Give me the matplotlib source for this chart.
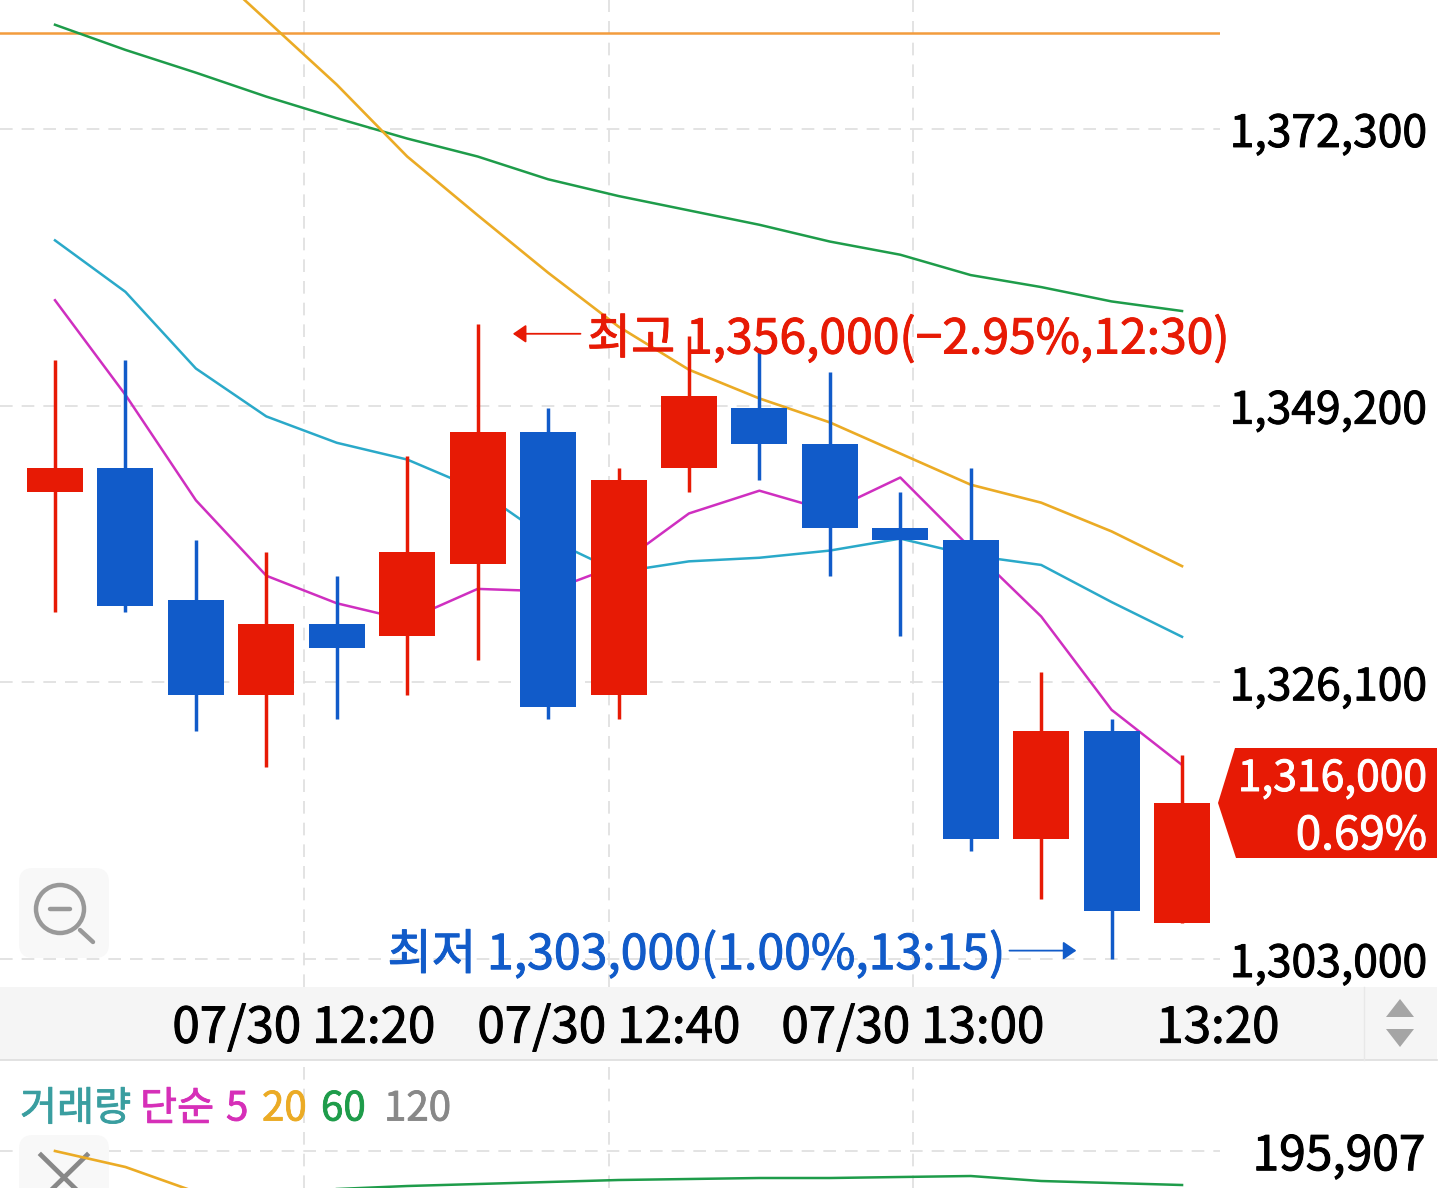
import matplotlib.pyplot as plt
import matplotlib.patheffects as pe
from matplotlib.patches import Circle, FancyBboxPatch, Polygon, Rectangle
import numpy as np

plt.rcParams['font.family'] = ['Noto Sans CJK KR', 'DejaVu Sans']

# prices in thousands of won, one candle every 5 minutes
opens = [1342, 1344, 1333, 1325, 1331, 1330, 1336, 1347, 1325, 1344, 1349, 1346, 1339, 1338, 1313, 1322, 1306]
closes = [1344, 1332.5, 1325, 1331, 1329, 1337, 1347, 1324, 1343, 1350, 1346, 1339, 1338, 1313, 1322, 1307, 1316]
highs = [1353, 1353, 1338, 1337, 1335, 1345, 1356, 1349, 1344, 1355, 1354, 1352, 1342, 1344, 1327, 1323, 1320]
lows = [1332, 1332, 1322, 1319, 1323, 1325, 1328, 1323, 1323, 1342, 1343, 1335, 1330, 1312, 1308, 1303, 1306]

ma_magenta = [1358.0, 1350.1, 1341.3, 1335.0, 1332.7, 1331.3, 1333.9, 1333.7, 1335.9,
              1340.2, 1342.1, 1340.4, 1343.2, 1337.3, 1331.6, 1323.8, 1319.2]
ma_cyan = [1363.0, 1358.7, 1352.3, 1348.3, 1346.1, 1344.7, 1342.2, 1338.1, 1335.3,
           1336.2, 1336.5, 1337.1, 1338.1, 1336.7, 1335.9, 1332.8, 1329.9]
ma_amber = [np.nan, np.nan, 1386.8, 1381.4, 1376.0, 1370.0, 1365.1, 1360.3, 1355.8,
            1352.2, 1349.8, 1347.8, 1345.2, 1342.6, 1341.1, 1338.7, 1335.8]
ma_green = [1381.0, 1378.9, 1377.0, 1375.0, 1373.2, 1371.5, 1370.0, 1368.1, 1366.7,
            1365.5, 1364.3, 1362.9, 1361.8, 1360.1, 1359.1, 1357.9, 1357.1]
level_orange = 1380.3

price_ticks = [1372.3, 1349.2, 1326.1, 1303.0]
price_labels = ['1,372,300', '1,349,200', '1,326,100', '1,303,000']
time_labels = ['07/30 12:20', '07/30 12:40', '07/30 13:00', '13:20']

# volume averages in thousands of shares
vol_amber = [195.9, 179.9, 154.9]
vol_green = [157.9, 160.9, 162.9, 164.9, 166.9, 167.9, 168.9, 168.9, 169.9, 170.9, 165.9, 163.9, 161.9]
vol_tick = 195.907
vol_label = '195,907'

RED = '#e71a05'
BLUE = '#115bc9'
W, H = 1440, 1188

fig = plt.figure(figsize=(W / 100, H / 100), dpi=100, facecolor='white')


def px_axes(x0, y0, x1, y1, z):
    a = fig.add_axes([x0 / W, 1 - y1 / H, (x1 - x0) / W, (y1 - y0) / H], zorder=z)
    a.patch.set_alpha(0)
    for s in a.spines.values():
        s.set_visible(False)
    return a


def thicken(t, c, w=0.7):
    # the font only comes in regular and bold, the reference sits in between
    t.set_path_effects([pe.withStroke(linewidth=w, foreground=c)])


# background strip behind the time labels
bg = px_axes(0, 0, W, H, 0)
bg.set_xlim(0, W)
bg.set_ylim(H, 0)
bg.axis('off')
bg.add_patch(Rectangle((0, 987), 1437, 73, fc='#f5f5f5', ec='none'))
bg.plot([0, 1437], [1060, 1060], color='#dddddd', lw=1.2)
bg.plot([1364, 1364], [987, 1060], color='#e8e8e8', lw=1)

# x runs in candle numbers, 70.44 px per candle, first candle at 55 px
step = 70.44
xlim = (-55 / step, (1220 - 55) / step)
xs = np.arange(len(opens))
tick_pos = [(p - 55) / step for p in (304, 609, 913, 1218)]

ax = px_axes(0, 0, 1220, 987, 1)
ax.set_xlim(xlim)
ax.set_ylim(1303 - 28 * 0.08349, 1303 + 959 * 0.08349)
ax.set_xticks(tick_pos, time_labels)
ax.set_yticks(price_ticks, price_labels)
ax.yaxis.tick_right()
ax.tick_params(axis='both', length=0, labelcolor='black')
ax.tick_params(axis='y', pad=149, labelsize=32)
ax.tick_params(axis='x', pad=30, labelsize=35.5)
for lab in ax.get_yticklabels():
    lab.set_ha('right')
    thicken(lab, 'black')
for lab in ax.get_xticklabels():
    lab.set_va('center')
    thicken(lab, 'black')
ax.grid(True, color='#e0e0e0', lw=1.3, ls=(0, (7, 5)), zorder=0)
ax.get_xgridlines()[-1].set_visible(False)
ax.set_axisbelow(True)

ax.axhline(level_orange, color='#f39c3d', lw=1.8, zorder=1)
ax.plot(xs, ma_green, color='#1e9c4a', lw=1.8, zorder=1)
ax.plot(xs, ma_amber, color='#ebab25', lw=1.9, zorder=1)
ax.plot(xs, ma_cyan, color='#2aa9c9', lw=1.8, zorder=1)
ax.plot(xs, ma_magenta, color='#cf2fc0', lw=1.8, zorder=1)

colors = [RED if c >= o else BLUE for o, c in zip(opens, closes)]
ax.vlines(xs, lows, highs, colors=colors, lw=2.5, zorder=2)
ax.bar(xs, np.abs(np.subtract(closes, opens)), bottom=np.minimum(opens, closes),
       width=0.795, color=colors, zorder=3)

# high and low markers
t = ax.text(7.55, 1354.7, '최고 1,356,000(−2.95%,12:30)', color=RED, fontsize=34.6,
            ha='left', va='center', zorder=5)
thicken(t, RED)
ax.annotate('', xy=(6.5, 1355.2), xytext=(7.46, 1355.2), zorder=5,
            arrowprops=dict(arrowstyle='-|>,head_length=0.8,head_width=0.55', color=RED, lw=1.3,
                            shrinkA=0, shrinkB=0))
t = ax.text(4.72, 1303.3, '최저 1,303,000(1.00%,13:15)', color=BLUE, fontsize=34.7,
            ha='left', va='center', zorder=5)
thicken(t, BLUE)
ax.annotate('', xy=(14.5, 1303.7), xytext=(13.55, 1303.7), zorder=5,
            arrowprops=dict(arrowstyle='-|>,head_length=0.8,head_width=0.55', color=BLUE, lw=1.3,
                            shrinkA=0, shrinkB=0))

# volume pane, cut off by the bottom of the picture
vol = px_axes(0, 1060, 1220, H, 1)
vol.set_xlim(xlim)
vol.set_ylim(vol_tick - 37, vol_tick + 91)
vol.set_xticks(tick_pos[:3], [])
vol.set_yticks([vol_tick], [vol_label])
vol.yaxis.tick_right()
vol.tick_params(axis='both', length=0)
vol.tick_params(axis='y', pad=148, labelsize=34.5)
vol.get_yticklabels()[0].set_ha('right')
thicken(vol.get_yticklabels()[0], 'black')
vol.grid(True, color='#e0e0e0', lw=1.3, ls=(0, (7, 5)), zorder=0)
vol.set_axisbelow(True)
vol.plot(xs[4:], vol_green, color='#1e9c4a', lw=1.8)

# pixel overlay for the app furniture
top = px_axes(0, 0, W, H, 2)
top.set_xlim(0, W)
top.set_ylim(H, 0)
top.axis('off')

top.add_patch(Polygon([(1218, 803), (1235, 748), (1437, 748), (1437, 858), (1236, 858)],
                      closed=True, fc=RED, ec='none'))
t = top.text(1427, 779, '1,316,000', color='white', fontsize=30.7, ha='right', va='center')
thicken(t, 'white')
t = top.text(1427, 836, '0.69%', color='white', fontsize=33, ha='right', va='center')
thicken(t, 'white')

# zoom out button
top.add_patch(FancyBboxPatch((27, 876), 74, 74, boxstyle='round,pad=8,rounding_size=14',
                             fc='#f8f8f8', ec='none'))
top.add_patch(Circle((60, 909), 24, fc='none', ec='#999999', lw=3.2))
top.plot([50, 70], [909, 909], color='#999999', lw=3.2, solid_capstyle='round')
top.plot([80, 93], [930, 942], color='#999999', lw=3.2, solid_capstyle='round')

# close button, the amber average of the volume pane runs over it
top.add_patch(FancyBboxPatch((27, 1143), 74, 74, boxstyle='round,pad=8,rounding_size=14',
                             fc='#f8f8f8', ec='none'))
top.plot([41, 87], [1155, 1200], color='#888888', lw=3.4)
top.plot([87, 41], [1155, 1200], color='#888888', lw=3.4)
vol_top = px_axes(0, 1060, 1220, H, 3)
vol_top.set_xlim(xlim)
vol_top.set_ylim(vol_tick - 37, vol_tick + 91)
vol_top.axis('off')
vol_top.plot(xs[:len(vol_amber)], vol_amber, color='#ebab25', lw=1.9)

# scroll arrows
top.add_patch(Polygon([(1400, 999), (1414, 1017), (1386, 1017)], closed=True, fc='#a5a5a5', ec='none'))
top.add_patch(Polygon([(1386, 1029), (1414, 1029), (1400, 1047)], closed=True, fc='#a5a5a5', ec='none'))

# legend of the volume pane
legend_items = [('거래량', 20, '#3a9ea0'), ('단순', 140, '#d62fb8'), ('5', 226, '#d62fb8'),
                ('20', 262, '#ebab25'), ('60', 321, '#1e9c4a'), ('120', 384, '#888888')]
for word, x, c in legend_items:
    t = top.text(x, 1109, word, color=c, fontsize=29, ha='left', va='center')
    thicken(t, c, 0.6)

fig.savefig('out.png', dpi=100)
